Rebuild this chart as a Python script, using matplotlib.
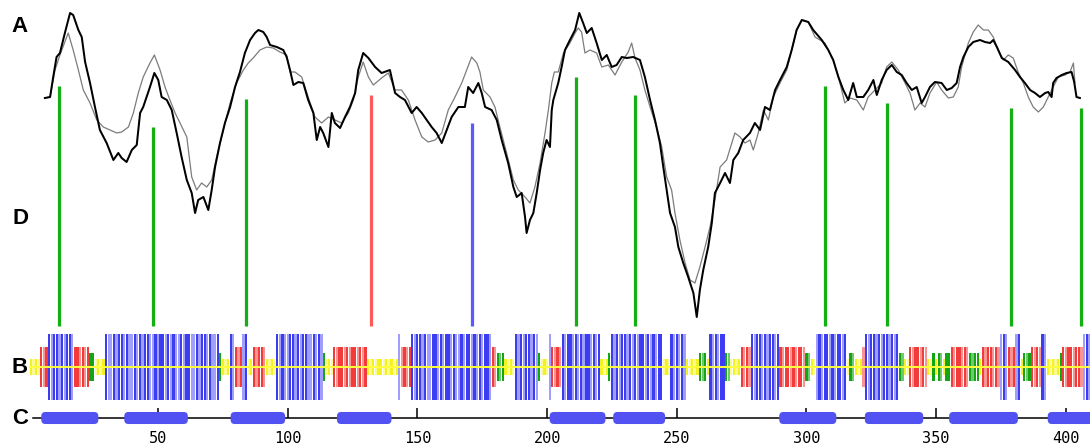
import matplotlib
matplotlib.use("Agg")
import matplotlib.pyplot as plt
from matplotlib.patches import FancyBboxPatch

# ---------------- Track A: two profile curves (residue position, score) ----------------
black_pos = [6.4, 8.4, 9.6, 10.9, 12.2, 14.1, 16.1, 17.3, 19.3, 20.6, 21.9, 23.8, 25.7, 27.6, 30.2,
             32.8, 34.7, 36.0, 37.9, 39.9, 41.8, 43.1, 44.3, 45.6, 46.9, 48.6, 50.1, 51.4, 53.4, 55.3,
             57.2, 59.1, 61.1, 63.0, 64.3, 65.5, 67.5, 69.4, 70.7, 72.0, 73.9, 75.8, 77.8, 79.7, 81.6,
             83.5, 85.5, 87.4, 88.7, 90.6, 91.9, 93.2, 95.8, 98.3, 99.6, 100.9, 102.2, 104.1, 106.0,
             107.9, 109.9, 111.2, 112.5, 113.7, 115.7, 117.0, 118.2, 120.2, 122.1, 124.0, 126.0, 127.2,
             129.1, 131.1, 133.7, 136.2, 139.4, 141.4, 143.3, 145.2, 147.8, 149.7, 151.7, 153.6, 155.5,
             157.4, 159.4, 161.3, 163.2, 165.8, 168.3, 169.6, 171.5, 173.5, 174.8, 176.1, 178.6, 180.6,
             182.5, 185.0, 187.0, 188.3, 190.2, 191.5, 192.1, 193.4, 194.7, 196.0, 197.3, 198.5, 199.8,
             201.1, 201.8, 202.4, 204.3, 205.6, 206.9, 208.8, 210.8, 212.4, 213.9, 215.3, 217.2, 219.1,
             221.1, 223.0, 224.9, 226.8, 228.8, 230.7, 233.2, 235.8, 237.7, 239.7, 241.6, 243.5, 244.8,
             246.1, 247.4, 249.3, 250.6, 252.5, 254.4, 256.4, 257.7, 258.9, 260.2, 262.1, 263.5, 264.7,
             266.7, 268.6, 270.5, 271.8, 273.7, 275.6, 278.2, 280.1, 282.1, 284.0, 285.9, 287.9, 289.8,
             292.4, 294.3, 296.2, 298.2, 300.7, 302.6, 305.9, 308.4, 310.3, 312.3, 314.2, 316.1, 318.0,
             319.4, 321.9, 323.8, 325.8, 327.1, 329.0, 330.9, 332.9, 334.8, 336.7, 338.6, 340.6, 342.5,
             344.4, 345.7, 347.6, 349.5, 352.1, 354.1, 356.0, 357.9, 359.2, 360.5, 362.4, 364.3, 366.9,
             368.8, 370.8, 372.0, 373.4, 375.3, 377.8, 380.4, 382.3, 384.2, 386.2, 388.1, 390.0, 392.0,
             393.2, 394.5, 395.1, 396.4, 398.4, 400.3, 402.2, 403.2, 404.1, 405.4]
black_val = [23.2, 23.3, 25.3, 27.3, 27.7, 29.7, 31.7, 31.5, 30.0, 29.3, 26.8, 24.7, 22.3, 20.0, 18.7,
             17.0, 17.7, 17.2, 16.8, 18.0, 18.5, 21.7, 22.3, 23.3, 24.3, 25.7, 25.0, 23.3, 23.0, 22.0,
             19.7, 17.3, 15.0, 13.7, 11.7, 13.0, 13.3, 12.0, 14.0, 16.3, 18.7, 20.7, 22.3, 24.3, 25.8,
             27.7, 29.0, 29.7, 30.0, 29.8, 29.3, 28.5, 28.3, 28.0, 27.3, 26.0, 24.5, 24.8, 24.7,
             23.0, 21.7, 19.0, 20.3, 19.7, 18.3, 21.7, 20.7, 20.2, 21.3, 22.3, 23.7, 26.0,
             27.7, 27.2, 26.3, 25.7, 26.0, 23.7, 23.3, 23.0, 21.7, 22.3, 21.7, 21.0, 20.3,
             19.7, 18.7, 20.0, 21.3, 22.3, 22.3, 24.3, 23.7, 24.7, 23.7, 22.3, 22.0, 21.0,
             19.0, 16.7, 14.3, 13.3, 13.7, 11.3, 9.7, 11.0, 11.7, 13.7, 16.0, 17.7, 19.0,
             18.3, 22.0, 23.0, 24.7, 26.3, 28.0, 29.0, 30.0, 31.7, 30.7, 29.7, 30.2, 28.7,
             27.0, 27.5, 26.3, 26.5, 27.3, 27.2, 27.3, 27.0, 25.3, 23.0, 21.0, 18.7, 16.3,
             14.0, 11.7, 10.3, 8.3, 6.7, 5.3, 3.7, 1.3, 4.0, 6.0, 8.3, 10.7, 13.7,
             14.7, 15.7, 14.7, 17.0, 17.7, 19.0, 19.7, 20.7, 20.0, 22.3, 22.0, 24.0, 25.0,
             26.3, 28.0, 30.0, 31.0, 30.8, 30.0, 29.0, 28.0, 27.0, 25.3, 24.0, 23.0, 24.7,
             23.3, 23.3, 24.0, 25.0, 23.5, 25.0, 26.0, 26.5, 25.8, 25.5, 24.7, 24.0, 24.3,
             22.7, 23.3, 24.3, 24.8, 24.7, 24.0, 24.2, 24.7, 26.3, 27.3, 28.3, 28.8, 29.0,
             28.8, 28.7, 29.0, 28.3, 27.2, 26.8, 26.0, 25.3, 24.7, 24.0, 23.7, 23.3, 23.7,
             23.8, 23.3, 24.7, 25.2, 25.5, 25.7, 25.8, 24.8, 23.3, 23.2]

gray_pos = [6.4, 8.4, 10.3, 12.2, 15.4, 17.3, 19.3, 21.2, 23.8, 26.4, 28.9, 31.5, 34.1, 36.0, 38.6,
            40.5, 42.4, 44.3, 46.9, 48.6, 50.8, 52.7, 54.6, 56.6, 58.5, 61.1, 63.0, 64.9, 66.8, 68.8,
            70.7, 72.6, 75.2, 77.8, 80.3, 82.9, 84.8, 86.7, 89.3, 91.9, 94.4, 97.0, 99.6, 100.9, 102.8,
            105.4, 107.9, 110.5, 113.1, 115.7, 118.2, 120.8, 123.4, 125.3, 127.2, 129.1, 131.1, 133.0,
            136.2, 138.8, 141.4, 143.9, 146.5, 149.1, 151.7, 154.2, 156.8, 159.4, 161.9, 164.5, 167.1,
            169.0, 170.9, 172.9, 174.1, 175.4, 178.0, 179.9, 181.8, 184.4, 187.0, 188.9, 191.5, 193.4,
            195.3, 197.3, 199.2, 200.5, 201.8, 202.8, 204.3, 206.3, 208.8, 210.8, 212.0, 213.3, 214.6,
            216.5, 219.1, 221.1, 223.6, 226.2, 228.8, 231.3, 232.6, 233.9, 235.8, 237.7, 239.7, 242.2,
            244.2, 246.1, 248.0, 249.3, 251.2, 253.2, 255.1, 257.0, 258.9, 260.9, 262.8, 264.7, 266.7,
            269.2, 271.2, 272.4, 274.4, 276.3, 278.2, 279.5, 281.4, 283.4, 285.3, 287.2, 289.8, 292.4,
            294.3, 296.2, 298.2, 300.7, 303.3, 307.1, 310.3, 312.3, 314.8, 316.8, 319.4, 321.9, 323.8,
            326.4, 329.0, 330.9, 332.9, 335.4, 338.0, 339.9, 341.8, 343.8, 345.7, 347.6, 350.2, 352.1,
            354.7, 356.6, 358.5, 359.8, 362.4, 364.3, 366.2, 368.2, 370.1, 372.0, 373.9, 375.9, 377.8,
            379.7, 381.6, 383.6, 385.5, 387.4, 389.4, 391.3, 393.2, 395.1, 397.1, 399.7, 401.6, 402.9,
            403.5]
gray_val = [23.2, 23.3, 26.0, 27.5, 29.7, 28.0, 26.0, 24.0, 22.7, 21.0, 20.3, 20.0, 19.7, 19.8, 20.3,
            21.7, 23.7, 25.3, 26.7, 27.5, 26.0, 24.3, 23.0, 21.7, 20.7, 19.3, 15.3, 14.0, 14.7, 14.3,
            15.0, 17.3, 20.0, 22.7, 24.7, 26.0, 26.7, 27.2, 28.0, 28.3, 28.2, 27.8, 27.5, 25.8, 25.8,
            25.3, 23.3, 21.3, 20.7, 21.3, 21.0, 20.7, 21.7, 23.0, 25.3, 26.8, 25.3, 24.5,
            25.2, 25.7, 24.0, 24.0, 23.0, 21.0, 19.3, 18.8, 19.0, 19.7, 22.0, 23.3, 24.7,
            26.0, 27.3, 26.7, 25.8, 24.0, 23.3, 22.3, 20.3, 17.7, 15.0, 14.0, 13.3, 12.7,
            14.3, 16.7, 19.7, 22.0, 24.7, 25.8, 25.8, 27.7, 28.7, 29.7, 30.2, 29.8, 27.7,
            28.0, 27.7, 26.3, 26.5, 25.5, 26.8, 27.8, 28.7, 27.2, 26.0, 24.0, 22.3, 20.3,
            18.3, 15.3, 14.0, 11.7, 9.0, 6.7, 5.0, 4.7, 6.3, 8.3, 10.3, 13.0, 16.3,
            17.0, 18.7, 19.7, 19.3, 18.7, 19.0, 18.0, 19.7, 22.0, 21.0, 23.3, 24.7, 26.0,
            28.0, 30.0, 31.0, 30.8, 29.3, 28.7, 27.0, 25.3, 22.7, 23.2, 23.0, 22.0, 23.3,
            24.0, 24.7, 26.3, 26.8, 26.0, 24.7, 23.7, 22.0, 22.7, 22.3, 23.7, 24.8, 24.0,
            23.2, 23.3, 24.3, 26.3, 28.7, 29.8, 30.5, 30.0, 30.0, 29.3, 28.0, 27.0, 27.5,
            27.2, 25.8, 24.7, 23.3, 22.3, 21.8, 22.3, 23.3, 24.3, 25.3, 25.5, 25.8, 26.7,
            24.7]

# ---------------- Track D: marker lines ----------------
d_pos = [12, 48, 84, 132, 171, 211, 234, 307, 331, 379, 406]
d_top = [24.4, 20.3, 23.1, 23.5, 20.7, 25.3, 23.5, 24.4, 22.7, 22.2, 22.2]
d_kind = ["g", "g", "g", "r", "b", "g", "g", "g", "g", "g", "g"]
d_base = 0.4

# ---------------- Track B: per-residue classes (start residue, class string) ----------------
track_b = [
    (1, "YyYy"), (5, "RrR"), (8, "BbBBbBbBB"), (17, "b"), (18, "RRrRrR"), (24, "GG"),
    (26, "yYyY"), (30, "BbbBbBBbBbbBbBbBBbbBbBBbBbBbbBbBBbbBbBBbBbbB"), (74, "G"), (75, "YyY"),
    (78, "Bb"), (80, "RrR"), (83, "bB"), (85, "yY"), (87, "RrRRr"), (92, "YyYy"),
    (96, "BbBbbBBbBbBBbbBbBb"), (114, "G"), (115, "yYy"), (118, "RrRRrRrRRrRrR"),
    (131, "YyYyYYyYyYyY"), (143, "b"), (144, "rRrR"), (148, "BbBBbBbbBBbBbBBbBbbBbBBbBbBbBBb"),
    (179, "Rr"), (181, "GgG"), (184, "YyYy"), (188, "BbBbBBbBb"), (197, "G"), (198, "yYy"),
    (201, "b"), (202, "RrRr"), (206, "BbBBbBbBbBBbBbB"), (221, "YyY"), (224, "G"),
    (225, "BbBbBBbBbBbBBbBbBbBB"), (245, "yYy"), (248, "BbBbBb"), (254, "YyYyY"), (259, "GgG"),
    (262, "Y"), (263, "BbBbBB"), (269, "Gg"), (271, "yYyY"), (275, "RrRr"), (279, "BbBBbBbBBbB"),
    (290, "RrRRrRrRRr"), (300, "Gg"), (302, "Yy"), (304, "bBbBBbBbBBbB"), (316, "y"), (317, "Gg"),
    (319, "YyY"), (322, "r"), (323, "BbBBbBbBBbBbB"), (336, "Gg"), (338, "Yy"), (340, "RrRRrRr"),
    (347, "Yy"), (349, "GYGgYGG"), (356, "RrRRrRr"), (363, "GgGG"), (367, "Y"), (368, "RrRRrRr"),
    (375, "bBb"), (378, "RrR"), (381, "bB"), (383, "Y"), (384, "GgG"), (387, "RrRr"), (391, "Bb"),
    (393, "YyYyY"), (398, "G"), (399, "RrRRrRRr"), (407, "bBb"),
]

# ---------------- Track C: helix segments and ruler ----------------
helix_start = [5, 37, 78, 119, 201, 225.5, 289.5, 322.5, 355, 393]
helix_end = [27, 61.5, 99, 140, 222.5, 245.5, 311.5, 345, 381.5, 413]
ruler_ticks = [50, 100, 150, 200, 250, 300, 350, 400]

# ---------------- styles ----------------
XLIM = (-10.91, 409.3)
d_colors = {"g": "#12b012", "r": "#ff5a5a", "b": "#5a5aff"}
b_colors = {"B": "#3c3cf2", "b": "#a0a0fc", "R": "#f23c3c", "r": "#f89494",
            "G": "#14a514", "g": "#70c870", "Y": "#f2f222", "y": "#fafa90"}
b_half = {"B": 1.0, "R": 0.61, "G": 0.43, "Y": 0.24}

fig = plt.figure(figsize=(10.9, 4.44), dpi=100)
fig.patch.set_facecolor("white")

# Track A / D axes (whole figure)
ax = fig.add_axes([0, 0, 1, 1])
ax.set_xlim(*XLIM)
ax.set_ylim(-11.4, 33.0)
ax.axis("off")
ax.plot(gray_pos, gray_val, color="#7c7c7c", lw=0.9, zorder=2)
ax.plot(black_pos, black_val, color="black", lw=1.45, zorder=3)
ax.vlines(d_pos, d_base, d_top, colors=[d_colors[k] for k in d_kind], lw=2.3, zorder=1)

# Track B axes
axb = fig.add_axes([0, 44 / 444, 1, 66 / 444])
axb.set_xlim(*XLIM)
axb.set_ylim(-1, 1)
axb.axis("off")
pos_b, hgt_b, col_b = [], [], []
for start, s in track_b:
    for i, c in enumerate(s):
        pos_b.append(start + i)
        hgt_b.append(b_half[c.upper()])
        col_b.append(b_colors[c])
axb.bar(pos_b, [2 * h for h in hgt_b], bottom=[-h for h in hgt_b], width=0.85,
        color=col_b, linewidth=0)
axb.plot([0.8, 409.5], [0, 0], color="#ffff3a", lw=1.4)

# Track C axes
axc = fig.add_axes([0, 12 / 444, 1, 28 / 444])
axc.set_xlim(*XLIM)
axc.set_ylim(-1, 1)
axc.patch.set_visible(False)
for side in ("top", "left", "right"):
    axc.spines[side].set_visible(False)
axc.spines["bottom"].set_position(("data", 0))
axc.spines["bottom"].set_bounds(1.8, 412)
axc.spines["bottom"].set_linewidth(1.1)
axc.set_yticks([])
axc.set_xticks(ruler_ticks)
axc.set_xticklabels([str(t) for t in ruler_ticks])
axc.tick_params(axis="x", direction="in", length=7, width=1.1, pad=9, labelsize=11,
                colors="black")
for lab in axc.get_xticklabels():
    lab.set_fontfamily("DejaVu Sans Mono")
asp = (1090 / (XLIM[1] - XLIM[0])) / (28 / 2)
for s0, s1 in zip(helix_start, helix_end):
    axc.add_patch(FancyBboxPatch((s0, -0.43), s1 - s0, 0.86,
                                 boxstyle="round,pad=0,rounding_size=1.6",
                                 mutation_aspect=asp, facecolor="#5252f2",
                                 edgecolor="none", zorder=3))

# Track letters
for letter, ypx in (("A", 26), ("D", 219), ("B", 367), ("C", 418.5)):
    fig.text(20 / 1090, 1 - ypx / 444, letter, ha="center", va="center",
             fontsize=16, fontweight="bold", family="Liberation Sans")

fig.savefig("out.png", dpi=100, facecolor="white")
